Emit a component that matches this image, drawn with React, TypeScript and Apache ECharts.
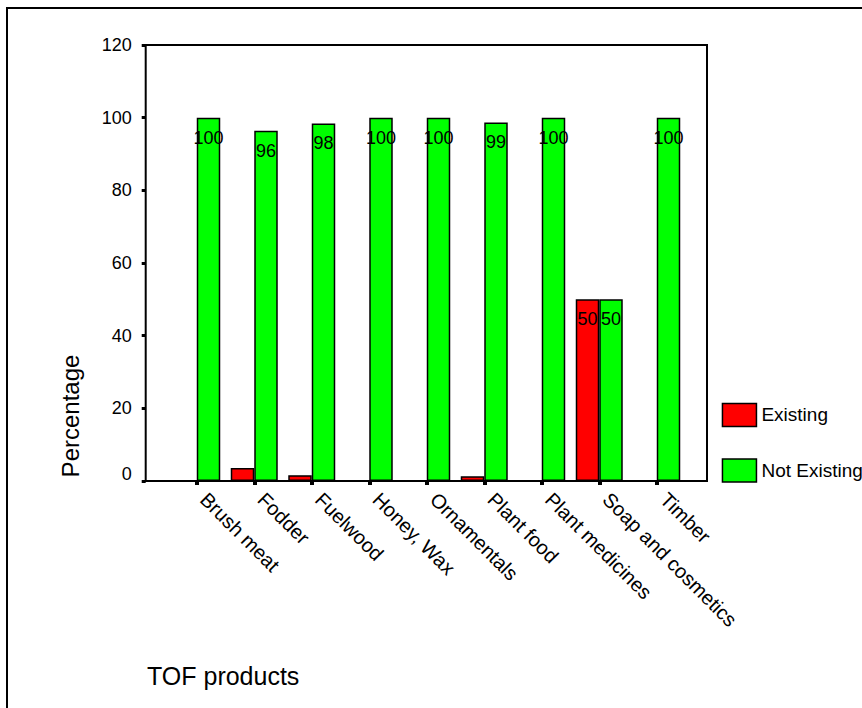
import React, { useEffect, useRef } from "react";
import * as echarts from "echarts";

const categories = [
  "Brush meat",
  "Fodder",
  "Fuelwood",
  "Honey, Wax",
  "Ornamentals",
  "Plant food",
  "Plant medicines",
  "Soap and cosmetics",
  "Timber",
];
const existing = [0, 3.6, 1.6, 0, 0, 1.3, 0, 50, 0];
const notExisting = [100, 96.4, 98.4, 100, 100, 98.7, 100, 50, 100];
const yTicks = { min: 0, max: 120, interval: 20 };

const FONT = "'Liberation Sans', Arial, sans-serif";

export default function App() {
  const ref = useRef<HTMLDivElement>(null);
  useEffect(() => {
    if (!ref.current) return;
    const chart = echarts.init(ref.current, null, { renderer: "svg" });
    const labelCfg = (minShow: number) => ({
      show: true,
      position: "insideTop",
      distance: 11,
      color: "#000",
      fontSize: 18,
      fontFamily: FONT,
      formatter: (p: any) => (p.value >= minShow ? String(Math.round(p.value)) : ""),
    });
    chart.setOption({
      animation: false,
      backgroundColor: "#fff",
      textStyle: { fontFamily: FONT },
      grid: { left: 168, top: 45, width: 517.5, height: 436 },
      legend: {
        orient: "vertical",
        left: 721.7,
        top: 402.7,
        padding: 0,
        itemWidth: 34,
        itemHeight: 23,
        itemGap: 31,
        icon: "rect",
        textStyle: { fontSize: 19, color: "#000", fontFamily: FONT },
        itemStyle: { borderColor: "#000", borderWidth: 1.5 },
        data: ["Existing", "Not Existing"],
      },
      xAxis: {
        type: "category",
        data: categories,
        axisLine: { show: false },
        axisTick: { show: true, alignWithLabel: true, length: 4, lineStyle: { color: "#000", width: 4 } },
        axisLabel: {
          rotate: -45,
          margin: 22,
          verticalAlign: "bottom",
          fontSize: 20,
          color: "#000",
          fontFamily: FONT,
          interval: 0,
        },
      },
      yAxis: {
        type: "value",
        min: yTicks.min,
        max: yTicks.max,
        interval: yTicks.interval,
        offset: 22.3,
        axisLine: { show: false },
        axisTick: { show: true, length: 4, lineStyle: { color: "#000", width: 3 } },
        splitLine: { show: false },
        axisLabel: {
          margin: 14,
          fontSize: 18,
          color: "#000",
          fontFamily: FONT,
          formatter: (v: number) => (v === 0 ? "{z|0}" : String(v)),
          rich: { z: { fontSize: 18, fontFamily: FONT, color: "#000", padding: [0, 0, 14, 0] } },
        },
      },
      series: [
        {
          name: "Existing",
          type: "bar",
          data: existing,
          barWidth: 23.5,
          barGap: "0%",
          itemStyle: { color: "#FF0000", borderColor: "#000", borderWidth: 1.5 },
          label: labelCfg(10),
        },
        {
          name: "Not Existing",
          type: "bar",
          data: notExisting,
          barWidth: 23.5,
          barGap: "0%",
          itemStyle: { color: "#00FF00", borderColor: "#000", borderWidth: 1.5 },
          label: labelCfg(0),
        },
      ],
      graphic: [
        {
          type: "rect",
          z: 100,
          shape: { x: 7, y: 8, width: 900, height: 800 },
          style: { fill: "none", stroke: "#000", lineWidth: 2 },
        },
        {
          type: "rect",
          z: 100,
          shape: { x: 145.7, y: 45, width: 561.3, height: 436 },
          style: { fill: "none", stroke: "#000", lineWidth: 2 },
        },
        {
          type: "text",
          x: 70,
          y: 416,
          rotation: Math.PI / 2,
          style: {
            text: "Percentage",
            fontSize: 24,
            fontFamily: FONT,
            fill: "#000",
            align: "center",
            verticalAlign: "middle",
          },
        },
        {
          type: "text",
          x: 147,
          y: 676,
          style: {
            text: "TOF products",
            fontSize: 25,
            fontFamily: FONT,
            fill: "#000",
            align: "left",
            verticalAlign: "middle",
          },
        },
      ],
    });
    return () => chart.dispose();
  }, []);
  return (
    <div
      ref={ref}
      style={{ position: "absolute", left: 0, top: 0, width: 862, height: 708 }}
    />
  );
}
